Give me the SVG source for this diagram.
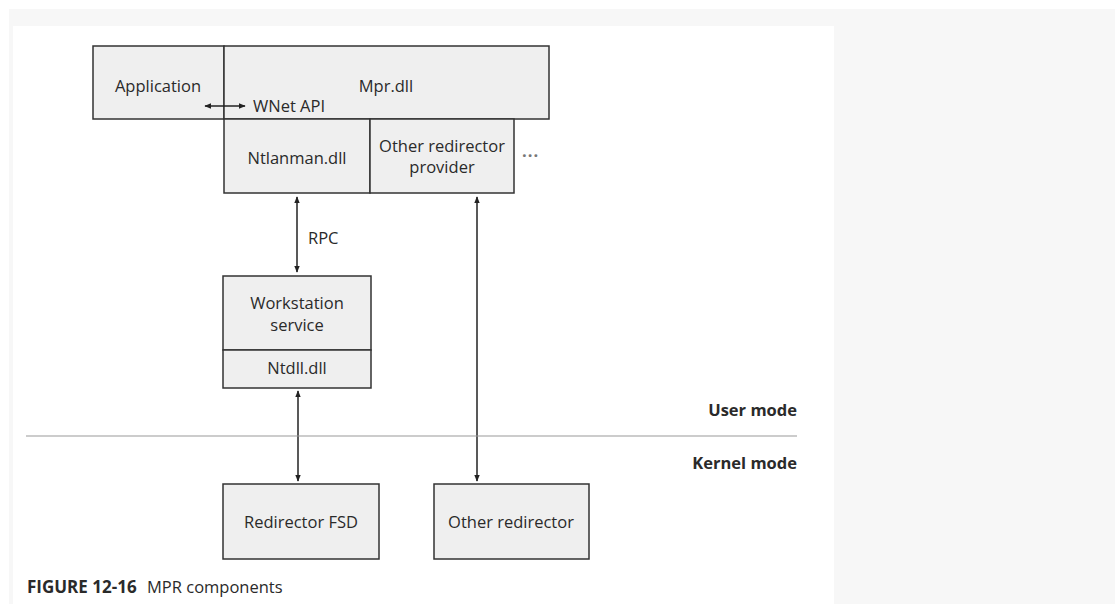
<svg xmlns="http://www.w3.org/2000/svg" width="1115" height="604" viewBox="0 0 1115 604">
<style>
.box{fill:#efefef;stroke:#333;stroke-width:1.5}
.t{font-family:"Open Sans","Noto Sans","Liberation Sans",sans-serif;font-size:16.5px;fill:#2a2a2a}
.c{text-anchor:middle}
.b{font-weight:bold}
.conn{stroke:#222;stroke-width:1.5;fill:none;marker-start:url(#ah);marker-end:url(#ah)}
</style>
<defs>
<marker id="ah" viewBox="0 0 10 10" refX="9" refY="5" markerWidth="7" markerHeight="8" markerUnits="userSpaceOnUse" orient="auto-start-reverse">
<path d="M0,1 L10,5 L0,9 Z" fill="#222"/>
</marker>
</defs>
<rect x="0" y="0" width="1115" height="604" fill="#ffffff"/>
<rect x="9" y="9" width="1106" height="595" fill="#f7f7f7"/>
<rect x="13" y="26" width="821" height="578" fill="#ffffff"/>

<g id="application">
<rect class="box" x="93" y="46" width="131" height="73"/>
<text class="t c" x="158" y="92">Application</text>
</g>
<g id="mpr">
<rect class="box" x="224" y="46" width="325" height="73"/>
<text class="t c" x="386" y="92">Mpr.dll</text>
<text class="t" x="253" y="112">WNet API</text>
</g>
<g id="ntlanman">
<rect class="box" x="224" y="119" width="146" height="74"/>
<text class="t c" x="297" y="164">Ntlanman.dll</text>
</g>
<g id="other-provider">
<rect class="box" x="370" y="119" width="144" height="74"/>
<text class="t c" x="442" y="152">Other redirector</text>
<text class="t c" x="442" y="173">provider</text>
<text class="t b" x="522" y="157" style="fill:#777;letter-spacing:1px">...</text>
</g>
<g id="workstation">
<rect class="box" x="223" y="276" width="148" height="74"/>
<text class="t c" x="297" y="309">Workstation</text>
<text class="t c" x="297" y="331">service</text>
</g>
<g id="ntdll">
<rect class="box" x="223" y="350" width="148" height="38"/>
<text class="t c" x="297" y="374">Ntdll.dll</text>
</g>
<g id="redirector-fsd">
<rect class="box" x="223" y="484" width="156" height="75"/>
<text class="t c" x="301" y="528">Redirector FSD</text>
</g>
<g id="other-redirector">
<rect class="box" x="434" y="484" width="155" height="75"/>
<text class="t c" x="511" y="528">Other redirector</text>
</g>

<g id="connectors">
<line class="conn" x1="205" y1="106" x2="245" y2="106"/>
<line class="conn" x1="297" y1="197" x2="297" y2="272"/>
<line class="conn" x1="298" y1="391" x2="298" y2="481"/>
<line class="conn" x1="477" y1="197" x2="477" y2="481"/>
</g>
<text class="t" x="308" y="244">RPC</text>

<g id="mode-divider">
<line x1="26" y1="436" x2="797" y2="436" stroke="#999" stroke-width="1.2"/>
<text class="t b" x="797" y="416" text-anchor="end">User mode</text>
<text class="t b" x="797" y="469" text-anchor="end">Kernel mode</text>
</g>

<g id="caption">
<text class="t b" x="27" y="593" style="font-size:17px">FIGURE 12-16</text>
<text class="t" x="147" y="593">MPR components</text>
</g>
</svg>
